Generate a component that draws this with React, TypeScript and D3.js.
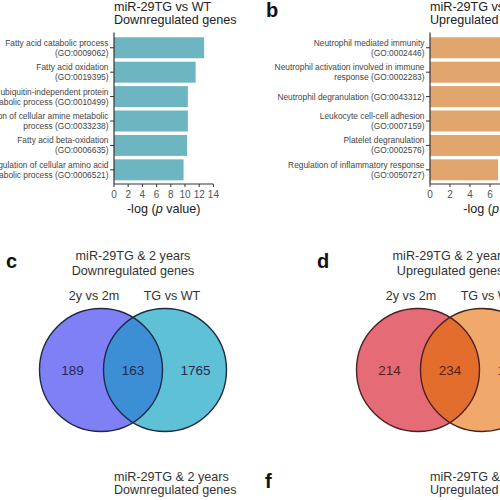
import React from "react";
import * as d3 from "d3";

// ---------- data ----------
const termsDownTG: string[][] = [
  ["Fatty acid catabolic process", "(GO:0009062)"],
  ["Fatty acid oxidation", "(GO:0019395)"],
  ["Proteasomal ubiquitin-independent protein", "catabolic process (GO:0010499)"],
  ["Regulation of cellular amine metabolic", "process (GO:0033238)"],
  ["Fatty acid beta-oxidation", "(GO:0006635)"],
  ["Regulation of cellular amino acid", "metabolic process (GO:0006521)"],
];
const valuesDownTG: number[] = [12.7, 11.5, 10.4, 10.4, 10.3, 9.8];

const termsUpTG: string[][] = [
  ["Neutrophil mediated immunity", "(GO:0002446)"],
  ["Neutrophil activation involved in immune", "response (GO:0002283)"],
  ["Neutrophil degranulation (GO:0043312)"],
  ["Leukocyte cell-cell adhesion", "(GO:0007159)"],
  ["Platelet degranulation", "(GO:0002576)"],
  ["Regulation of inflammatory response", "(GO:0050727)"],
];
const valuesUpTG: number[] = [9.6, 9.4, 9.3, 8.2, 7.6, 6.8];

const xTicks: number[] = [0, 2, 4, 6, 8, 10, 12, 14];

const vennSets: string[] = ["2y vs 2m", "TG vs WT"];
const vennDown: number[] = [189, 163, 1765];
const vennUp: number[] = [214, 234, 1208];

const FONT = "'Liberation Sans', Arial, Helvetica, sans-serif";

// ---------- bar panel ----------
function BarPanel({
  terms,
  values,
  x0,
  pxPerUnit,
  color,
  title,
}: {
  terms: string[][];
  values: number[];
  x0: number;
  pxPerUnit: number;
  color: string;
  title: string[];
}) {
  const x = d3.scaleLinear().domain([0, 14]).range([x0, x0 + 14 * pxPerUnit]);
  const idx = terms.map((_, i) => String(i));
  const y = d3
    .scaleBand<string>()
    .domain(idx)
    .range([33.6, 184])
    .paddingInner(0.14)
    .paddingOuter(0.15);
  const axisY = 184;
  return (
    <g>
      <text x={x0} y={11} fontSize={12.6} fill="#222" fontFamily={FONT}>
        {title[0]}
      </text>
      <text x={x0} y={24} fontSize={12.6} fill="#222" fontFamily={FONT}>
        {title[1]}
      </text>
      {values.map((v, i) => (
        <rect
          key={i}
          x={x(0)}
          y={y(String(i))!}
          width={x(v) - x(0)}
          height={y.bandwidth()}
          fill={color}
        />
      ))}
      {/* y axis */}
      <line x1={x0} x2={x0} y1={32.5} y2={axisY} stroke="#333" strokeWidth={1.2} />
      {terms.map((t, i) => {
        const cy = y(String(i))! + y.bandwidth() / 2;
        const lines = t.length;
        return (
          <g key={i}>
            <line x1={x0 - 4} x2={x0} y1={cy} y2={cy} stroke="#333" strokeWidth={1} />
            {t.map((s, j) => (
              <text
                key={j}
                x={x0 - 5.5}
                y={cy + (j - (lines - 1) / 2) * 10 + 3}
                textAnchor="end"
                fontSize={8.4}
                fill="#444"
                fontFamily={FONT}
              >
                {s}
              </text>
            ))}
          </g>
        );
      })}
      {/* x axis */}
      <line x1={x0} x2={x(14)} y1={axisY} y2={axisY} stroke="#333" strokeWidth={1.2} />
      {xTicks.map((t) => (
        <g key={t}>
          <line x1={x(t)} x2={x(t)} y1={axisY} y2={axisY + 3} stroke="#333" strokeWidth={1} />
          <text
            x={x(t)}
            y={197.5}
            textAnchor="middle"
            fontSize={10}
            fill="#555"
            fontFamily={FONT}
          >
            {t}
          </text>
        </g>
      ))}
      <text
        x={x(7)}
        y={213}
        textAnchor="middle"
        fontSize={12.6}
        fill="#222"
        fontFamily={FONT}
      >
        -log (<tspan fontStyle="italic">p</tspan> value)
      </text>
    </g>
  );
}

// ---------- venn panel ----------
function VennPanel({
  id,
  cx,
  counts,
  colors,
  stroke,
  numColor,
  title,
}: {
  id: string;
  cx: number;
  counts: number[];
  colors: string[];
  stroke: string;
  numColor: string;
  title: string[];
}) {
  const r = 61.5;
  const half = 32;
  const cy = 370;
  const xl = d3.scaleLinear().domain([-1, 1]).range([cx - half, cx + half]);
  const c1 = xl(-1);
  const c2 = xl(1);
  const pos = [(c1 - r + c2 - r) / 2 + 1, cx, (c1 + r + c2 + r) / 2 + 1];
  return (
    <g>
      <defs>
        <clipPath id={`clip-${id}`}>
          <circle cx={c2} cy={cy} r={r} />
        </clipPath>
      </defs>
      <text x={cx} y={260} textAnchor="middle" fontSize={12.6} fill="#333" fontFamily={FONT}>
        {title[0]}
      </text>
      <text x={cx} y={275} textAnchor="middle" fontSize={12.6} fill="#333" fontFamily={FONT}>
        {title[1]}
      </text>
      <text x={cx - 39} y={300} textAnchor="middle" fontSize={12.6} fill="#333" fontFamily={FONT}>
        {vennSets[0]}
      </text>
      <text x={cx + 39} y={300} textAnchor="middle" fontSize={12.6} fill="#333" fontFamily={FONT}>
        {vennSets[1]}
      </text>
      <circle cx={c1} cy={cy} r={r} fill={colors[0]} />
      <circle cx={c2} cy={cy} r={r} fill={colors[1]} />
      <circle cx={c1} cy={cy} r={r} fill={colors[2]} clipPath={`url(#clip-${id})`} />
      <circle cx={c1} cy={cy} r={r} fill="none" stroke={stroke} strokeWidth={1.4} />
      <circle cx={c2} cy={cy} r={r} fill="none" stroke={stroke} strokeWidth={1.4} />
      {counts.map((n, i) => (
        <text
          key={i}
          x={pos[i]}
          y={cy + 5}
          textAnchor="middle"
          fontSize={13.5}
          fill={numColor}
          fontFamily={FONT}
        >
          {n}
        </text>
      ))}
    </g>
  );
}

function PanelLetter({ x, y, t }: { x: number; y: number; t: string }) {
  return (
    <text x={x} y={y} fontSize={20} fontWeight="bold" fill="#111" fontFamily={FONT}>
      {t}
    </text>
  );
}

export default function App() {
  return (
    <svg
      width={500}
      height={500}
      style={{ position: "absolute", left: 0, top: 0, background: "#fff" }}
      fontFamily={FONT}
    >
      <rect width={500} height={500} fill="#fff" />
      <BarPanel
        terms={termsDownTG}
        values={valuesDownTG}
        x0={114}
        pxPerUnit={7.1}
        color="#6eb5c2"
        title={["miR-29TG vs WT", "Downregulated genes"]}
      />
      <BarPanel
        terms={termsUpTG}
        values={valuesUpTG}
        x0={430}
        pxPerUnit={10}
        color="#e1a66d"
        title={["miR-29TG vs WT", "Upregulated genes"]}
      />
      <PanelLetter x={266} y={17} t="b" />
      <PanelLetter x={6} y={268} t="c" />
      <PanelLetter x={317} y={268} t="d" />
      <PanelLetter x={265} y={488} t="f" />
      <VennPanel
        id="down"
        cx={133}
        counts={vennDown}
        colors={["#8080f6", "#5fc1d5", "#3d8fd5"]}
        stroke="#1d2b48"
        numColor="#262a55"
        title={["miR-29TG & 2 years", "Downregulated genes"]}
      />
      <VennPanel
        id="up"
        cx={450}
        counts={vennUp}
        colors={["#e56c77", "#f0a96a", "#e36d2d"]}
        stroke="#4a2222"
        numColor="#5a1d1d"
        title={["miR-29TG & 2 years", "Upregulated genes"]}
      />
      <text x={114} y={481} fontSize={12.6} fill="#333" fontFamily={FONT}>
        miR-29TG &amp; 2 years
      </text>
      <text x={114} y={494} fontSize={12.6} fill="#333" fontFamily={FONT}>
        Downregulated genes
      </text>
      <text x={430} y={481} fontSize={12.6} fill="#333" fontFamily={FONT}>
        miR-29TG &amp; 2 years
      </text>
      <text x={430} y={494} fontSize={12.6} fill="#333" fontFamily={FONT}>
        Upregulated genes
      </text>
    </svg>
  );
}
